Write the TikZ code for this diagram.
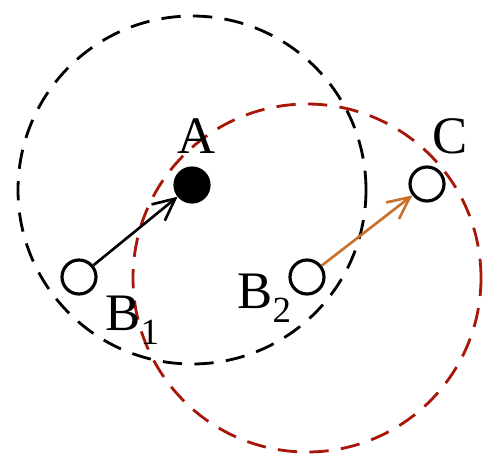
\documentclass[tikz,border=0pt]{standalone}
\usepackage{fontspec}
\setmainfont{Liberation Serif}
\usepackage{tikz}
\usetikzlibrary{arrows.meta, positioning}
\definecolor{ringred}{RGB}{168,22,10}
\definecolor{arrorange}{RGB}{200,112,45}
\newcommand{\lowidx}[1]{\raisebox{-8.5pt}{\fontsize{21}{21}\selectfont #1}}

\begin{document}
\begin{tikzpicture}[
  pt/.style={draw, circle, line width=1.8pt, minimum size=0.68cm, inner sep=0pt, fill=white},
  ring/.style={line width=1.6pt, dash pattern=on 11pt off 7pt},
  lbl/.style={inner sep=0pt, font=\fontsize{30}{30}\selectfont},
  tip/.style={-{Straight Barb[length=0.44cm, width=0.42cm]}, line width=1.5pt}
]
\useasboundingbox (0,0) rectangle (10,9.4);

% the two ranges
\draw[ring] (3.84,5.60) circle (3.48);
\draw[ring, ringred] (6.14,3.84) circle (3.48);

\node[pt, fill=black] (A) at (3.84,5.70) {};
\node[pt] (B1) at (1.58,3.86) {};
\node[pt] (B2) at (6.14,3.86) {};
\node[pt] (C) at (8.54,5.72) {};

\node[lbl, anchor=base] (labA) at (3.94,6.34) {A};
\node[lbl, anchor=base] (labC) at (9.00,6.34) {C};
\node[lbl, anchor=base west] (labB1) at (2.10,2.80) {B\lowidx{1}};
\node[lbl, anchor=base west] (labB2) at (4.74,3.24) {B\lowidx{2}};

\draw[tip] (B1) -- (A);
\draw[tip, arrorange] (B2) -- (C);
\end{tikzpicture}
\end{document}
